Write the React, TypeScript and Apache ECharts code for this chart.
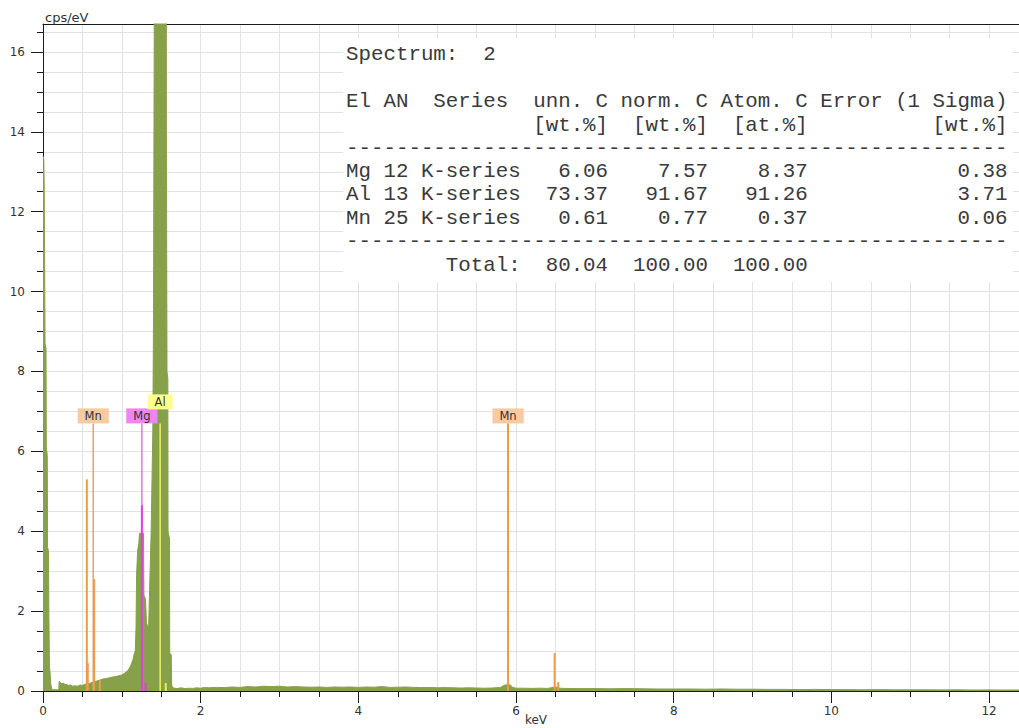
import React, { useEffect, useRef } from 'react';
import * as echarts from 'echarts';

// ---------- spectrum (keV, cps/eV) ----------
const noisePeak: [number, number][] = [
  [0.0, 13.4], [0.01, 13.3], [0.016, 12.6], [0.02, 11.0], [0.026, 8.7], [0.038, 8.6],
  [0.042, 6.1], [0.054, 5.9], [0.058, 3.6], [0.07, 3.5], [0.074, 2.0], [0.082, 0.6],
  [0.09, 0.45], [0.1, 0.15], [0.115, 0.03], [0.19, 0.03],
];
const lowBackground: [number, number][] = [
  [0.2, 0.03], [0.205, 0.24], [0.22, 0.22], [0.24, 0.18], [0.26, 0.2], [0.28, 0.16], [0.3, 0.17],
  [0.32, 0.14], [0.35, 0.15], [0.38, 0.12], [0.41, 0.13], [0.44, 0.12], [0.47, 0.15], [0.5, 0.14],
  [0.53, 0.17], [0.56, 0.16], [0.6, 0.2], [0.64, 0.22], [0.68, 0.25], [0.72, 0.27], [0.76, 0.3],
  [0.8, 0.31], [0.84, 0.33], [0.88, 0.35], [0.92, 0.36], [0.96, 0.38], [1.0, 0.4], [1.04, 0.45],
  [1.08, 0.52], [1.11, 0.62], [1.14, 0.78], [1.16, 0.95],
];
const mgAlPeaks: [number, number][] = [
  [1.17, 1.0], [1.18, 1.6], [1.187, 2.9], [1.2, 3.5], [1.215, 3.7], [1.225, 3.95], [1.275, 3.95],
  [1.28, 2.4], [1.3, 2.3], [1.313, 1.7], [1.339, 1.55], [1.352, 2.5], [1.372, 4.0], [1.393, 6.5],
  [1.402, 9.4], [1.415, 20], [1.563, 20], [1.565, 14.2], [1.571, 14.2], [1.573, 8.0], [1.584, 7.8],
  [1.586, 4.0], [1.605, 3.8], [1.607, 0.95], [1.627, 0.9], [1.632, 0.15], [1.645, 0.08],
];
const highBackground: [number, number][] = [
  [1.7, 0.06], [1.75, 0.08], [1.8, 0.06], [1.85, 0.07], [1.9, 0.065], [1.95, 0.08], [2.0, 0.07],
  [2.05, 0.09], [2.1, 0.08], [2.2, 0.09], [2.3, 0.085], [2.4, 0.1], [2.5, 0.09], [2.6, 0.11],
  [2.7, 0.1], [2.8, 0.12], [2.9, 0.11], [3.0, 0.12], [3.1, 0.1], [3.2, 0.11], [3.3, 0.1],
  [3.4, 0.095], [3.5, 0.1], [3.6, 0.09], [3.7, 0.1], [3.8, 0.095], [3.9, 0.1], [4.0, 0.09],
  [4.1, 0.1], [4.2, 0.095], [4.3, 0.11], [4.4, 0.09], [4.5, 0.095], [4.6, 0.1], [4.7, 0.09],
  [4.8, 0.085], [4.9, 0.09], [5.0, 0.08], [5.1, 0.085], [5.2, 0.08], [5.3, 0.075], [5.4, 0.08],
  [5.5, 0.075], [5.6, 0.07], [5.7, 0.075], [5.8, 0.09], [5.86, 0.15], [5.92, 0.16], [5.96, 0.09],
  [6.0, 0.07], [6.1, 0.07], [6.2, 0.065], [6.3, 0.07], [6.4, 0.065], [6.47, 0.09], [6.52, 0.1],
  [6.56, 0.07], [6.6, 0.065], [6.8, 0.06], [7.0, 0.06], [7.2, 0.055], [7.4, 0.06], [7.6, 0.055],
  [7.8, 0.05], [8.0, 0.05], [8.2, 0.05], [8.4, 0.045], [8.6, 0.05], [8.8, 0.045], [9.0, 0.045],
  [9.2, 0.04], [9.4, 0.04], [9.6, 0.035], [9.8, 0.04], [10.0, 0.035], [10.2, 0.035], [10.4, 0.03],
  [10.6, 0.035], [10.8, 0.03], [11.0, 0.03], [11.2, 0.03], [11.4, 0.028], [11.6, 0.03],
  [11.8, 0.025], [12.0, 0.028], [12.2, 0.025], [12.4, 0.025],
];

// ---------- element line markers ----------
const peakLineElement = ['Mn', 'Mn', 'Mn', 'Mn', 'Mn', 'Mn', 'Mn', 'Mg', 'Mg', 'Al'];
const peakLineKeV = [0.556, 0.568, 0.649, 0.721, 5.899, 6.49, 6.535, 1.254, 1.302, 1.557];
const peakLineHeight = [5.3, 0.7, 2.8, 0.27, 6.7, 0.95, 0.22, 4.65, 0.2, 0.2];

const labelElement = ['Mn', 'Mg', 'Al', 'Mn'];
const labelKeV = [0.637, 1.254, 1.486, 5.899];
const LABEL_LEVEL = 6.7;

// ---------- axes ----------
const X_MAX = 12.38;
const Y_MAX = 16.7;
const xMajorTicks = [0, 2, 4, 6, 8, 10, 12];
const xMinorTicks = [0, 0.5, 1, 1.5, 2, 2.5, 3, 3.5, 4, 4.5, 5, 5.5, 6, 6.5, 7, 7.5, 8, 8.5, 9, 9.5, 10, 10.5, 11, 11.5, 12];
const yMajorTicks = [0, 2, 4, 6, 8, 10, 12, 14, 16];
const yMinorTicks = [0, 0.5, 1, 1.5, 2, 2.5, 3, 3.5, 4, 4.5, 5, 5.5, 6, 6.5, 7, 7.5, 8, 8.5, 9, 9.5, 10, 10.5, 11, 11.5, 12, 12.5, 13, 13.5, 14, 14.5, 15, 15.5, 16, 16.5];

// ---------- quantification table ----------
const spectrumName = '2';
const tableEl = ['Mg', 'Al', 'Mn'];
const tableAN = [12, 13, 25];
const tableSeries = ['K-series', 'K-series', 'K-series'];
const unnC = [6.06, 73.37, 0.61];
const normC = [7.57, 91.67, 0.77];
const atomC = [8.37, 91.26, 0.37];
const errorSigma = [0.38, 3.71, 0.06];
const totals = [80.04, 100.0, 100.0];

// ---------- styles ----------
const GREEN = '#87a04a';
const GRID = '#e2e2e2';
const AXIS = '#1a1a1a';
const TXT = '#333333';
const SANS = 'Verdana, "DejaVu Sans", sans-serif';
const MONO = '"Liberation Mono", "Courier New", monospace';
const elementStyle: Record<string, { line: string; label: string; box: string }> = {
  Mn: { line: '#ee9a48', label: '#d9a674', box: '#f9c9a0' },
  Mg: { line: '#e040e0', label: '#d878d8', box: '#f084f0' },
  Al: { line: '#eeee50', label: '#eeee66', box: '#ffff8c' },
};
const labelRaise: Record<string, number> = { Mn: 0, Mg: 0, Al: 14 };

function buildTable(): string[] {
  const dash = '-'.repeat(53);
  const lines: string[] = [];
  lines.push('Spectrum:  ' + spectrumName);
  lines.push('El AN  Series  unn. C norm. C Atom. C Error (1 Sigma)');
  lines.push(' '.repeat(15) + '[wt.%]  [wt.%]  [at.%]' + ' '.repeat(10) + '[wt.%]');
  lines.push(dash);
  for (let i = 0; i < tableEl.length; i++) {
    const head = (tableEl[i] + ' ' + tableAN[i] + ' ' + tableSeries[i]).padEnd(14);
    lines.push(
      head +
        unnC[i].toFixed(2).padStart(7) +
        normC[i].toFixed(2).padStart(8) +
        atomC[i].toFixed(2).padStart(8) +
        errorSigma[i].toFixed(2).padStart(16)
    );
  }
  lines.push(dash);
  lines.push(
    '        Total:' +
      totals[0].toFixed(2).padStart(7) +
      totals[1].toFixed(2).padStart(8) +
      totals[2].toFixed(2).padStart(8)
  );
  return lines;
}

export default function App() {
  const ref = useRef<HTMLDivElement>(null);
  useEffect(() => {
    if (!ref.current) return;
    const chart = echarts.init(ref.current, undefined, { renderer: 'svg' });
    const spectrum = [...noisePeak, ...lowBackground, ...mgAlPeaks, ...highBackground];
    const tableLines = buildTable();
    const lineY = [54, 101, 125, 148, 171, 194.5, 218, 241, 265.5];

    const option: any = {
      animation: false,
      backgroundColor: '#ffffff',
      grid: { left: 43, right: 0, top: 24, bottom: 37, containLabel: false },
      xAxis: [
        {
          type: 'value', min: 0, max: X_MAX, interval: 0.5, position: 'bottom',
          axisLine: { show: true, onZero: false, lineStyle: { color: AXIS, width: 1 } },
          axisTick: { show: true, length: 6, lineStyle: { color: AXIS }, customValues: xMinorTicks },
          axisLabel: { show: false },
          splitLine: { show: true, lineStyle: { color: GRID, width: 1 } },
        },
        {
          type: 'value', min: 0, max: X_MAX, interval: 2, position: 'bottom',
          axisLine: { show: false, onZero: false },
          axisTick: { show: true, length: 12, lineStyle: { color: AXIS }, customValues: xMajorTicks },
          axisLabel: {
            show: true, margin: 14, color: TXT, fontSize: 12, fontFamily: SANS,
            customValues: xMajorTicks,
            formatter: (v: number) => (v % 2 === 0 ? String(v) : ''),
          },
          splitLine: { show: false },
        },
        {
          type: 'value', min: 0, max: X_MAX, position: 'top',
          axisLine: { show: true, onZero: false, lineStyle: { color: AXIS, width: 1 } },
          axisTick: { show: false }, axisLabel: { show: false }, splitLine: { show: false },
        },
      ],
      yAxis: [
        {
          type: 'value', min: 0, max: Y_MAX, interval: 0.5, position: 'left',
          axisLine: { show: true, onZero: false, lineStyle: { color: AXIS, width: 1 } },
          axisTick: { show: true, length: 6, lineStyle: { color: AXIS }, customValues: yMinorTicks },
          axisLabel: { show: false },
          splitLine: { show: true, lineStyle: { color: GRID, width: 1 } },
        },
        {
          type: 'value', min: 0, max: Y_MAX, interval: 2, position: 'left',
          axisLine: { show: false, onZero: false },
          axisTick: { show: true, length: 12, lineStyle: { color: AXIS }, customValues: yMajorTicks },
          axisLabel: {
            show: true, margin: 18, color: TXT, fontSize: 12, fontFamily: SANS,
            customValues: yMajorTicks,
            formatter: (v: number) => (v % 2 === 0 ? String(v) : ''),
          },
          splitLine: { show: false },
        },
      ],
      series: [
        {
          type: 'line', xAxisIndex: 0, yAxisIndex: 0, data: spectrum,
          symbol: 'none', showSymbol: false, silent: true, z: 2,
          lineStyle: { color: GREEN, width: 1 },
          areaStyle: { color: GREEN, opacity: 1 },
        },
        {
          type: 'custom', xAxisIndex: 0, yAxisIndex: 0, z: 3, silent: true,
          data: labelKeV.map((k) => [k, LABEL_LEVEL]),
          encode: { x: 0, y: 1 },
          renderItem: (params: any, api: any) => {
            const el = labelElement[params.dataIndex];
            const p0 = api.coord([api.value(0), 0]);
            const p1 = api.coord([api.value(0), api.value(1)]);
            return {
              type: 'line',
              shape: { x1: p0[0], y1: p0[1], x2: p1[0], y2: p1[1] },
              style: { stroke: elementStyle[el].label, lineWidth: 1.5 },
            };
          },
        },
        {
          type: 'custom', xAxisIndex: 0, yAxisIndex: 0, z: 4, silent: true,
          data: peakLineKeV.map((k, i) => [k, peakLineHeight[i]]),
          encode: { x: 0, y: 1 },
          renderItem: (params: any, api: any) => {
            const el = peakLineElement[params.dataIndex];
            const p0 = api.coord([api.value(0), 0]);
            const p1 = api.coord([api.value(0), api.value(1)]);
            return {
              type: 'line',
              shape: { x1: p0[0], y1: p0[1], x2: p1[0], y2: p1[1] },
              style: { stroke: elementStyle[el].line, lineWidth: 2 },
            };
          },
        },
        {
          type: 'custom', xAxisIndex: 0, yAxisIndex: 0, z: 5, silent: true,
          data: labelKeV.map((k) => [k, LABEL_LEVEL]),
          encode: { x: 0, y: 1 },
          renderItem: (params: any, api: any) => {
            const el = labelElement[params.dataIndex];
            const p = api.coord([api.value(0), api.value(1)]);
            return {
              type: 'text',
              x: p[0],
              y: p[1] - labelRaise[el],
              style: {
                text: el,
                fill: TXT,
                font: '11.5px ' + SANS,
                align: 'center',
                verticalAlign: 'bottom',
                backgroundColor: elementStyle[el].box,
                padding: [2, 7, 1, 7],
              },
            };
          },
        },
      ],
      graphic: [
        {
          type: 'rect', z: 1, silent: true,
          shape: { x: 343, y: 38, width: 670, height: 244 },
          style: { fill: '#ffffff' },
        },
        ...tableLines.map((t, i) => ({
          type: 'text', z: 6, silent: true,
          x: 346, y: lineY[i],
          style: { text: t, font: '20.8px ' + MONO, fill: '#3a3a3a', align: 'left', verticalAlign: 'middle' },
        })),
        {
          type: 'text', z: 6, silent: true, x: 45, y: 17,
          style: { text: 'cps/eV', font: '13px ' + SANS, fill: TXT, align: 'left', verticalAlign: 'middle' },
        },
        {
          type: 'text', z: 6, silent: true, x: 536, y: 714,
          style: { text: 'keV', font: '12px ' + SANS, fill: TXT, align: 'center', verticalAlign: 'top' },
        },
      ],
    };
    chart.setOption(option);
    return () => chart.dispose();
  }, []);
  return (
    <div
      ref={ref}
      style={{ position: 'absolute', left: 0, top: 0, width: 1019, height: 728, background: '#fff' }}
    />
  );
}
